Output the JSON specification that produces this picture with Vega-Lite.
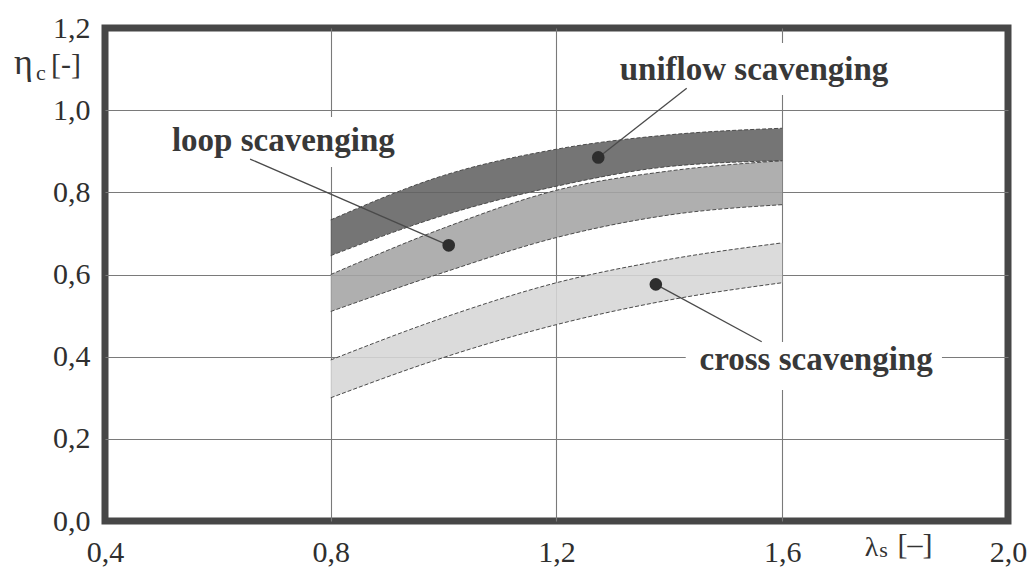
{
  "$schema": "https://vega.github.io/schema/vega-lite/v6.json",
  "width": 903,
  "height": 493,
  "autosize": {"type": "none"},
  "padding": {"left": 105, "top": 28, "right": 19, "bottom": 49},
  "background": "white",
  "config": {
    "view": {"stroke": "#474747", "strokeWidth": 7},
    "axis": {"domain": false, "ticks": false, "grid": true, "gridColor": "#7a7a7a", "gridWidth": 1.1, "labelFont": "Liberation Serif", "labelFontSize": 30, "labelColor": "#2f2f2f", "labelFlush": false, "labelOverlap": false, "labelBound": false},
    "text": {"font": "Liberation Serif", "color": "#333333"}
  },
  "datasets": {
    "bands": [
      {"band": "uniflow", "x": 0.8, "lo": 0.646, "hi": 0.733},
      {"band": "uniflow", "x": 1.0, "lo": 0.744, "hi": 0.841},
      {"band": "uniflow", "x": 1.2, "lo": 0.815, "hi": 0.905},
      {"band": "uniflow", "x": 1.4, "lo": 0.863, "hi": 0.940},
      {"band": "uniflow", "x": 1.6, "lo": 0.877, "hi": 0.956},
      {"band": "loop", "x": 0.8, "lo": 0.51, "hi": 0.60},
      {"band": "loop", "x": 1.0, "lo": 0.605, "hi": 0.713},
      {"band": "loop", "x": 1.2, "lo": 0.69, "hi": 0.805},
      {"band": "loop", "x": 1.4, "lo": 0.745, "hi": 0.852},
      {"band": "loop", "x": 1.6, "lo": 0.77, "hi": 0.877},
      {"band": "cross", "x": 0.8, "lo": 0.30, "hi": 0.392},
      {"band": "cross", "x": 1.0, "lo": 0.398, "hi": 0.495},
      {"band": "cross", "x": 1.2, "lo": 0.478, "hi": 0.58},
      {"band": "cross", "x": 1.4, "lo": 0.538, "hi": 0.637},
      {"band": "cross", "x": 1.6, "lo": 0.58, "hi": 0.677}
    ],
    "gaps": [
      {"x": 1.289, "x2": 1.812, "y": 1.0369, "y2": 1.1635},
      {"x": 0.494, "x2": 0.937, "y": 0.8617, "y2": 0.9834},
      {"x": 1.429, "x2": 1.883, "y": 0.319, "y2": 0.4357}
    ],
    "leaders": [
      {"x": 1.274, "y": 0.885, "x2": 1.4307, "y2": 1.0532},
      {"x": 1.009, "y": 0.671, "x2": 0.657, "y2": 0.881},
      {"x": 1.376, "y": 0.576, "x2": 1.5636, "y2": 0.4364}
    ],
    "dots": [
      {"x": 1.274, "y": 0.885},
      {"x": 1.009, "y": 0.671},
      {"x": 1.376, "y": 0.576}
    ],
    "labels": [
      {"x": 1.55, "y": 1.0734, "text": "uniflow scavenging"},
      {"x": 0.716, "y": 0.900, "text": "loop scavenging"},
      {"x": 1.66, "y": 0.3675, "text": "cross scavenging"}
    ],
    "titlesEta": [
      {"x": 0.2556, "y": 1.088, "text": "η"}
    ],
    "titlesBig": [
      {"x": 0.3309, "y": 1.088, "text": "[-]"},
      {"x": 1.835, "y": -0.0803, "text": "[–]"}
    ],
    "titlesLambda": [
      {"x": 1.758, "y": -0.0852, "text": "λ"}
    ],
    "titlesSub": [
      {"x": 0.2866, "y": 1.0734, "text": "c"},
      {"x": 1.7794, "y": -0.0876, "text": "s"}
    ]
  },
  "layer": [
    {
      "data": {"name": "gaps"},
      "mark": {"type": "rect", "fill": "white"},
      "encoding": {
        "x": {"field": "x", "type": "quantitative", "title": null,
          "scale": {"domain": [0.4, 2.0], "nice": false, "zero": false},
          "axis": {"values": [0.4, 0.8, 1.2, 1.6, 2.0], "labelFont": "Liberation Serif", "labelFontSize": 30, "labelExpr": "replace(format(datum.value, '.1f'), '.', ',')", "labelPadding": 16, "gridOpacity": {"condition": {"test": "datum.value < 0.45 || datum.value > 1.95", "value": 0}, "value": 1}}},
        "x2": {"field": "x2"},
        "y": {"field": "y", "type": "quantitative", "title": null,
          "scale": {"domain": [0, 1.2], "nice": false, "zero": false},
          "axis": {"values": [0, 0.2, 0.4, 0.6, 0.8, 1.0, 1.2], "labelFont": "Liberation Serif", "labelFontSize": 30, "labelExpr": "replace(format(datum.value, '.1f'), '.', ',')", "labelPadding": 15, "gridOpacity": {"condition": {"test": "datum.value < 0.05 || datum.value > 1.15", "value": 0}, "value": 1}}},
        "y2": {"field": "y2"}
      }
    },
    {
      "data": {"name": "bands"},
      "mark": {"type": "area", "interpolate": "monotone", "fillOpacity": 0.88},
      "encoding": {
        "x": {"field": "x", "type": "quantitative", "title": null},
        "y": {"field": "lo", "type": "quantitative", "title": null},
        "y2": {"field": "hi"},
        "color": {"field": "band", "type": "nominal", "legend": null,
          "scale": {"domain": ["uniflow", "loop", "cross"], "range": ["#626262", "#a4a4a4", "#d6d6d6"]}}
      }
    },
    {
      "data": {"name": "bands"},
      "mark": {"type": "line", "interpolate": "monotone", "stroke": "#4a4a4a", "strokeWidth": 1, "strokeDash": [4, 2]},
      "encoding": {
        "x": {"field": "x", "type": "quantitative", "title": null},
        "y": {"field": "lo", "type": "quantitative", "title": null},
        "detail": {"field": "band"}
      }
    },
    {
      "data": {"name": "bands"},
      "mark": {"type": "line", "interpolate": "monotone", "stroke": "#4a4a4a", "strokeWidth": 1, "strokeDash": [4, 2]},
      "encoding": {
        "x": {"field": "x", "type": "quantitative", "title": null},
        "y": {"field": "hi", "type": "quantitative", "title": null},
        "detail": {"field": "band"}
      }
    },
    {
      "data": {"name": "leaders"},
      "mark": {"type": "rule", "color": "#4a4a4a", "strokeWidth": 1.3},
      "encoding": {
        "x": {"field": "x", "type": "quantitative", "title": null},
        "y": {"field": "y", "type": "quantitative", "title": null},
        "x2": {"field": "x2"},
        "y2": {"field": "y2"}
      }
    },
    {
      "data": {"name": "dots"},
      "mark": {"type": "point", "shape": "circle", "filled": true, "size": 160, "color": "#2e2e2e", "opacity": 1},
      "encoding": {
        "x": {"field": "x", "type": "quantitative", "title": null},
        "y": {"field": "y", "type": "quantitative", "title": null}
      }
    },
    {
      "data": {"name": "labels"},
      "mark": {"type": "text", "font": "Liberation Serif", "fontSize": 33, "fontWeight": "bold", "align": "center", "baseline": "alphabetic", "color": "#383838"},
      "encoding": {
        "x": {"field": "x", "type": "quantitative", "title": null},
        "y": {"field": "y", "type": "quantitative", "title": null},
        "text": {"field": "text"}
      }
    },
    {
      "data": {"name": "titlesEta"},
      "mark": {"type": "text", "font": "Liberation Serif", "fontSize": 36, "align": "center", "baseline": "alphabetic", "color": "#333333"},
      "encoding": {
        "x": {"field": "x", "type": "quantitative", "title": null},
        "y": {"field": "y", "type": "quantitative", "title": null},
        "text": {"field": "text"}
      }
    },
    {
      "data": {"name": "titlesBig"},
      "mark": {"type": "text", "font": "Liberation Serif", "fontSize": 30, "align": "center", "baseline": "alphabetic", "color": "#333333"},
      "encoding": {
        "x": {"field": "x", "type": "quantitative", "title": null},
        "y": {"field": "y", "type": "quantitative", "title": null},
        "text": {"field": "text"}
      }
    },
    {
      "data": {"name": "titlesLambda"},
      "mark": {"type": "text", "font": "Liberation Serif", "fontSize": 28, "align": "center", "baseline": "alphabetic", "color": "#333333"},
      "encoding": {
        "x": {"field": "x", "type": "quantitative", "title": null},
        "y": {"field": "y", "type": "quantitative", "title": null},
        "text": {"field": "text"}
      }
    },
    {
      "data": {"name": "titlesSub"},
      "mark": {"type": "text", "font": "Liberation Serif", "fontSize": 22, "align": "center", "baseline": "alphabetic", "color": "#333333"},
      "encoding": {
        "x": {"field": "x", "type": "quantitative", "title": null},
        "y": {"field": "y", "type": "quantitative", "title": null},
        "text": {"field": "text"}
      }
    }
  ]
}
